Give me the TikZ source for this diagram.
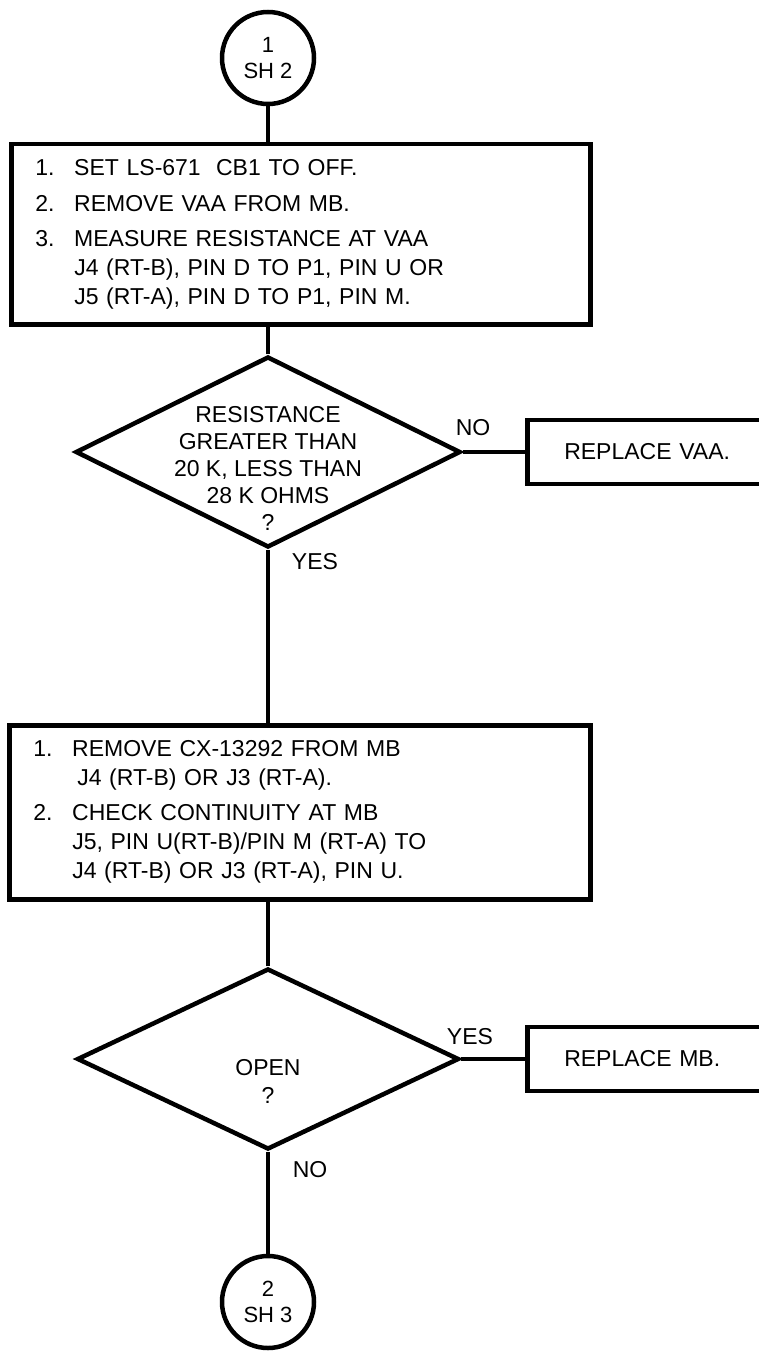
\documentclass[tikz,border=0pt]{standalone}
\usepackage{fontspec}
\setmainfont{Liberation Sans}
\usetikzlibrary{shapes.geometric}
\newcommand{\stepnum}[1]{\makebox[39pt][l]{#1}}
\tikzset{
  every picture/.style={line width=4.5pt},
  stepbox/.style={draw, rectangle, anchor=north west, align=left, inner xsep=24pt},
  fixbox/.style={draw, rectangle, anchor=west, minimum height=64pt, inner xsep=37pt, text width=226pt, align=left},
  query/.style={draw, diamond, inner sep=0pt},
  sheet/.style={draw, circle, minimum size=92pt, inner sep=0pt, align=center, font=\fontsize{22}{26}\selectfont},
  qtext/.style={align=center, font=\fontsize{23}{27}\selectfont},
}

\begin{document}
\begin{tikzpicture}[x=1pt, y=-1pt, font=\fontsize{23}{29}\selectfont]
  \useasboundingbox (0,0) rectangle (759,1351);
  \clip (0,0) rectangle (759,1351);
  % sheet 2 in
  \node[sheet] (c1) at (268,58) {1\\SH 2};
  % first checks
  \node[stepbox, minimum width=579pt, minimum height=180pt, text width=531pt] (b1) at (9,142) {%
    \stepnum{1.}SET LS-671\ \ CB1 TO OFF.\\[7pt]
    \stepnum{2.}REMOVE VAA FROM MB.\\[6pt]
    \stepnum{3.}MEASURE RESISTANCE AT VAA\\
    \stepnum{}J4 (RT-B), PIN D TO P1, PIN U OR\\
    \stepnum{}J5 (RT-A), PIN D TO P1, PIN M.};
  % resistance question
  \node[query, minimum width=385pt, minimum height=191pt] (d1) at (268,452) {};
  \node[qtext] (d1t) at (268,468) {RESISTANCE\\GREATER THAN\\20 K, LESS THAN\\28 K OHMS\\?};
  \node[fixbox] (rv) at (525,452) {REPLACE VAA.};
  \node (no1) at (473,428) {NO};
  \node (yes1) at (315,562) {YES};
  % continuity checks
  \node[stepbox, minimum width=581pt, minimum height=174pt, text width=533pt] (b2) at (7,723) {%
    \stepnum{1.}REMOVE CX-13292 FROM MB\\
    \stepnum{}\hspace*{5pt}J4 (RT-B) OR J3 (RT-A).\\[6pt]
    \stepnum{2.}CHECK CONTINUITY AT MB\\
    \stepnum{}J5, PIN U(RT-B)/PIN M (RT-A) TO\\
    \stepnum{}J4 (RT-B) OR J3 (RT-A), PIN U.};
  % open question
  \node[query, minimum width=382pt, minimum height=181pt] (d2) at (268,1059) {};
  \node[qtext, font=\fontsize{23}{28}\selectfont] (d2t) at (268,1081) {OPEN\\?};
  \node[fixbox] (rm) at (525,1059) {REPLACE MB.};
  \node (yes2) at (470,1037) {YES};
  \node (no2) at (310,1170) {NO};
  % sheet 3 out
  \node[sheet] (c2) at (268,1302) {2\\SH 3};
  % connectors
  \draw (c1.south) -- (c1.south |- b1.north);
  \draw (d1.north) -- (d1.north |- b1.south);
  \draw (d1.east) -- (d1.east -| rv.west);
  \draw (d1.south) -- (d1.south |- b2.north);
  \draw (d2.north) -- (d2.north |- b2.south);
  \draw (d2.east) -- (d2.east -| rm.west);
  \draw (d2.south) -- (c2.north);
\end{tikzpicture}
\end{document}
